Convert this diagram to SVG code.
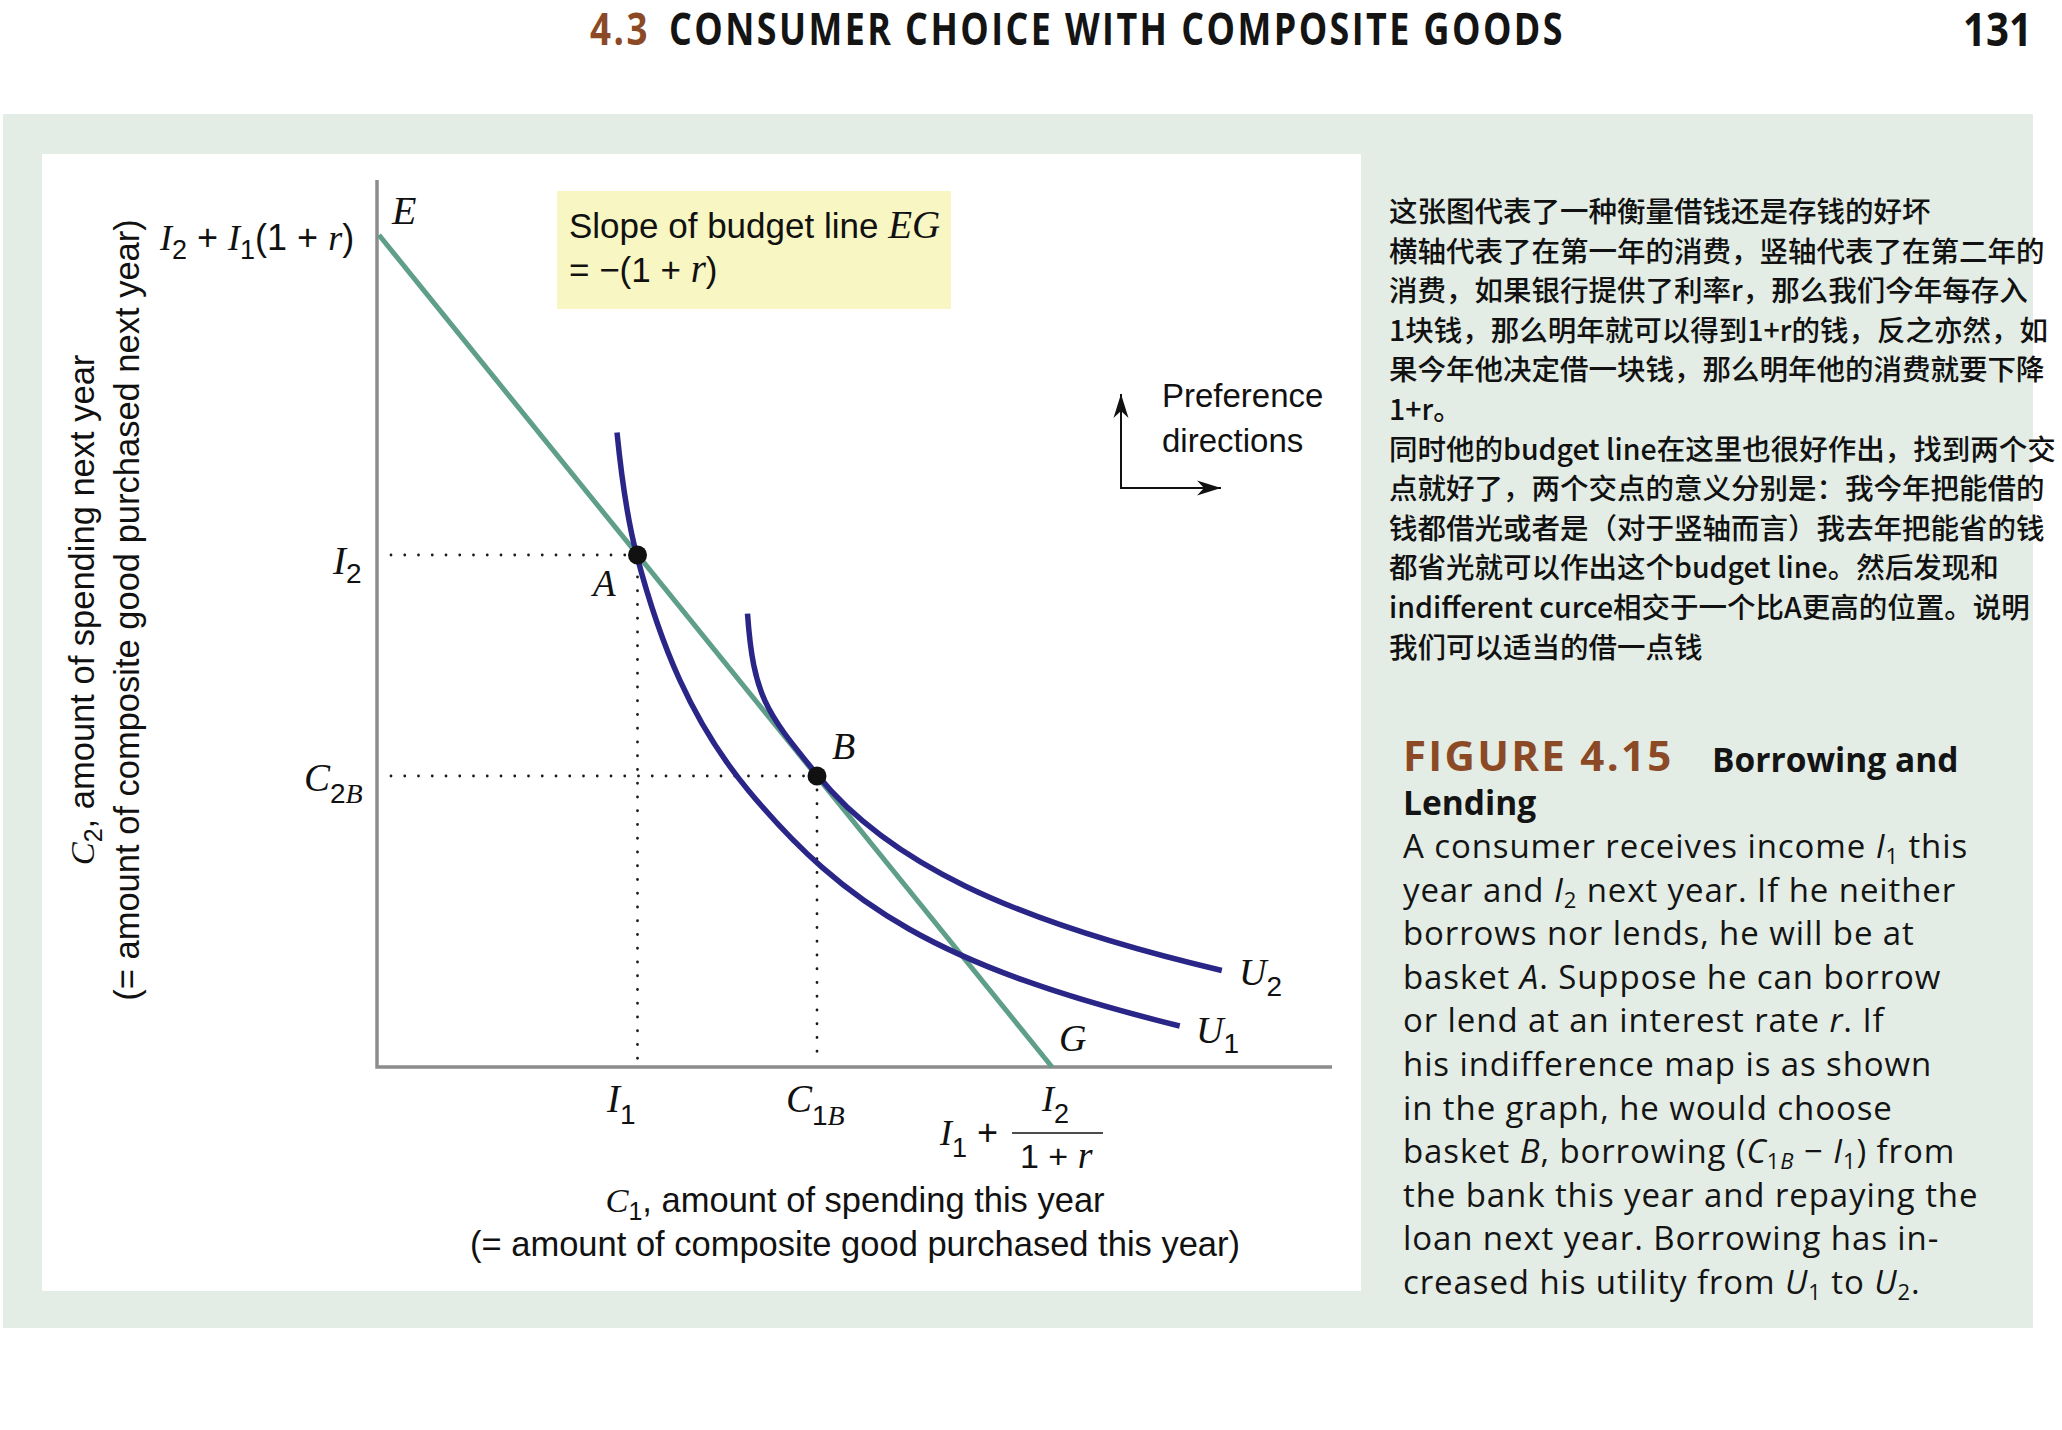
<svg xmlns="http://www.w3.org/2000/svg" width="2062" height="1430" viewBox="0 0 2062 1430">
<style>
.sans{font-family:"Liberation Sans",Arial,sans-serif;}
.math{font-family:"Liberation Serif","Times New Roman",serif;font-style:italic;}
.cap{font-family:"Open Sans","Noto Sans",sans-serif;fill:#141414;}
.cjk{font-family:"Noto Sans CJK SC",sans-serif;font-size:28.5px;fill:#111;font-weight:500;}
.dot{stroke:#1a1a1a;stroke-width:2.8;stroke-dasharray:0 13.75;stroke-linecap:round;fill:none;}
.ic{fill:none;stroke:#2a2687;stroke-width:5.5;}
.lbl{fill:#111;}
</style>
<defs>
<marker id="ah" markerWidth="30" markerHeight="20" viewBox="-26 -10 30 20" refX="0" refY="0" orient="auto" markerUnits="userSpaceOnUse"><path d="M0,0 L-24,-7.5 L-17,0 L-24,7.5 Z" fill="#111"/></marker>
</defs>
<rect x="0" y="0" width="2062" height="1430" fill="#ffffff"/>
<g id="header">
<text x="590" y="45" class="cap" font-size="44" font-weight="700" fill="#8b4a25" style="fill:#8b4a25" letter-spacing="3" textLength="60" lengthAdjust="spacingAndGlyphs">4.3</text>
<text x="669" y="45" class="cap" font-size="44" font-weight="700" letter-spacing="3" textLength="896" lengthAdjust="spacingAndGlyphs">CONSUMER CHOICE WITH COMPOSITE GOODS</text>
<text x="1963" y="46" class="cap" font-size="46" font-weight="700" textLength="69" lengthAdjust="spacingAndGlyphs">131</text>
</g>
<rect id="panel" x="3" y="114" width="2030" height="1214" fill="#e3ede5"/>
<rect id="chart-bg" x="42" y="154" width="1319" height="1137" fill="#ffffff"/>

<g id="axes">
<path d="M377,180 L377,1067 L1332,1067" fill="none" stroke="#8c8c8c" stroke-width="3.5"/>
</g>
<g id="connectors">
<path d="M391,555 H631" class="dot"/>
<path d="M637.5,577 V1062" class="dot"/>
<path d="M391,776 H812" class="dot"/>
<path d="M817,790 V1062" class="dot"/>
<path id="budget-line" d="M379,235 L1052,1067" stroke="#5f9f89" stroke-width="5" fill="none"/>
<path id="U1" class="ic" d="M617,432.6 C621,472.6 626.6,516.8 636.8,555.5 C659.7,642.5 690.8,721.3 748.4,790.4 C844.4,905.6 937,966.3 1179.7,1026"/>
<path id="U2" class="ic" d="M747.5,613.6 C753.5,698.6 767.4,713.4 817.8,775.6 C887.1,861.1 1007.7,920.1 1221.8,970.5"/>
<path d="M1121,488 V394" stroke="#111" stroke-width="2" fill="none" marker-end="url(#ah)"/>
<path d="M1120,488 H1221" stroke="#111" stroke-width="2" fill="none" marker-end="url(#ah)"/>
</g>
<g id="point-A"><circle cx="637.5" cy="555" r="9.5" fill="#111"/><text x="593" y="596" class="math lbl" font-size="37">A</text></g>
<g id="point-B"><circle cx="817" cy="776" r="9.5" fill="#111"/><text x="832" y="759" class="math lbl" font-size="38">B</text></g>
<g id="point-E"><text x="392" y="224" class="math lbl" font-size="40">E</text></g>
<g id="point-G"><text x="1059" y="1051" class="math lbl" font-size="38">G</text></g>
<g id="label-U1"><text x="1196" y="1043" class="lbl" font-size="38"><tspan class="math">U</tspan><tspan class="sans" font-size="28" dy="10">1</tspan></text></g>
<g id="label-U2"><text x="1239" y="985" class="lbl" font-size="38"><tspan class="math">U</tspan><tspan class="sans" font-size="28" dy="11">2</tspan></text></g>

<g id="ylabels">
<text x="160" y="250" class="lbl" font-size="36" xml:space="preserve"><tspan class="math">I</tspan><tspan class="sans" font-size="27" dy="9">2</tspan><tspan class="sans" dy="-9"> + </tspan><tspan class="math">I</tspan><tspan class="sans" font-size="27" dy="9">1</tspan><tspan class="sans" dy="-9">(1 + </tspan><tspan class="math">r</tspan><tspan class="sans">)</tspan></text>
<text x="333" y="574" class="lbl" font-size="39"><tspan class="math">I</tspan><tspan class="sans" font-size="28" dy="9">2</tspan></text>
<text x="304" y="791" class="lbl" font-size="39"><tspan class="math">C</tspan><tspan class="sans" font-size="28" dy="12">2</tspan><tspan class="math" font-size="28">B</tspan></text>
</g>
<g id="xlabels">
<text x="607" y="1112" class="lbl" font-size="39"><tspan class="math">I</tspan><tspan class="sans" font-size="28" dy="12">1</tspan></text>
<text x="786" y="1112" class="lbl" font-size="39"><tspan class="math">C</tspan><tspan class="sans" font-size="28" dy="13">1</tspan><tspan class="math" font-size="28">B</tspan></text>
<text x="940" y="1145" class="lbl" font-size="36" xml:space="preserve"><tspan class="math">I</tspan><tspan class="sans" font-size="27" dy="12">1</tspan><tspan class="sans" dy="-12"> +</tspan></text>
<line x1="1012" y1="1133" x2="1103" y2="1133" stroke="#111" stroke-width="1.6"/>
<text x="1042" y="1111" class="lbl" font-size="36"><tspan class="math">I</tspan><tspan class="sans" font-size="27" dy="12">2</tspan></text>
<text x="1020" y="1168" class="lbl" font-size="34" xml:space="preserve"><tspan class="sans">1 + </tspan><tspan class="math" font-size="38">r</tspan></text>
</g>

<g id="axis-title-y">
<text transform="translate(94,610) rotate(-90)" text-anchor="middle" class="sans lbl" font-size="34.5"><tspan class="math">C</tspan><tspan font-size="25" dy="8">2</tspan><tspan dy="-8">, amount of spending next year</tspan></text>
<text transform="translate(139,610) rotate(-90)" text-anchor="middle" class="sans lbl" font-size="34.5">(= amount of composite good purchased next year)</text>
</g>
<g id="axis-title-x">
<text x="855" y="1212" text-anchor="middle" class="sans lbl" font-size="34.5"><tspan class="math">C</tspan><tspan font-size="25" dy="8">1</tspan><tspan dy="-8">, amount of spending this year</tspan></text>
<text x="855" y="1256" text-anchor="middle" class="sans lbl" font-size="34.5">(= amount of composite good purchased this year)</text>
</g>

<g id="slope-note">
<rect x="557" y="191" width="394" height="118" fill="#f8f6c2"/>
<text x="569" y="238" class="lbl" font-size="35" xml:space="preserve"><tspan class="sans">Slope of budget line </tspan><tspan class="math" font-size="39">EG</tspan></text>
<text x="569" y="282" class="lbl" font-size="35" xml:space="preserve"><tspan class="sans">= −(1 + </tspan><tspan class="math" font-size="39">r</tspan><tspan class="sans">)</tspan></text>
</g>
<g id="preference-note">
<text x="1162" y="407" class="sans lbl" font-size="33">Preference</text>
<text x="1162" y="452" class="sans lbl" font-size="33">directions</text>
</g>

<g id="cjk-note" class="cjk">
<text x="1389" y="222">这张图代表了一种衡量借钱还是存钱的好坏</text>
<text x="1389" y="261.6">横轴代表了在第一年的消费，竖轴代表了在第二年的</text>
<text x="1389" y="301.2">消费，如果银行提供了利率r，那么我们今年每存入</text>
<text x="1389" y="340.8">1块钱，那么明年就可以得到1+r的钱，反之亦然，如</text>
<text x="1389" y="380.4">果今年他决定借一块钱，那么明年他的消费就要下降</text>
<text x="1389" y="420">1+r。</text>
<text x="1389" y="459.6">同时他的budget line在这里也很好作出，找到两个交</text>
<text x="1389" y="499.2">点就好了，两个交点的意义分别是：我今年把能借的</text>
<text x="1389" y="538.8">钱都借光或者是（对于竖轴而言）我去年把能省的钱</text>
<text x="1389" y="578.4">都省光就可以作出这个budget line。然后发现和</text>
<text x="1389" y="618">indifferent curce相交于一个比A更高的位置。说明</text>
<text x="1389" y="657.6">我们可以适当的借一点钱</text>
</g>

<g id="caption" class="cap">
<text x="1403" y="771" font-size="42" font-weight="700" style="fill:#8b4a25" letter-spacing="2.3">FIGURE 4.15</text>
<text x="1712" y="772" font-size="33.5" font-weight="700">Borrowing and</text>
<text x="1403" y="815" font-size="33.5" font-weight="700">Lending</text>
<g font-size="33" letter-spacing="0.9" xml:space="preserve">
<text x="1403" y="858">A consumer receives income <tspan font-style="italic">I</tspan><tspan font-size="22" dy="6">1</tspan><tspan dy="-6"> this</tspan></text>
<text x="1403" y="901.6">year and <tspan font-style="italic">I</tspan><tspan font-size="22" dy="6">2</tspan><tspan dy="-6"> next year. If he neither</tspan></text>
<text x="1403" y="945.2">borrows nor lends, he will be at</text>
<text x="1403" y="988.8">basket <tspan font-style="italic">A</tspan>. Suppose he can borrow</text>
<text x="1403" y="1032.4">or lend at an interest rate <tspan font-style="italic">r</tspan>. If</text>
<text x="1403" y="1076">his indifference map is as shown</text>
<text x="1403" y="1119.6">in the graph, he would choose</text>
<text x="1403" y="1163.2">basket <tspan font-style="italic">B</tspan>, borrowing (<tspan font-style="italic">C</tspan><tspan font-size="22" dy="6">1<tspan font-style="italic">B</tspan></tspan><tspan dy="-6"> − </tspan><tspan font-style="italic">I</tspan><tspan font-size="22" dy="6">1</tspan><tspan dy="-6">) from</tspan></text>
<text x="1403" y="1206.8">the bank this year and repaying the</text>
<text x="1403" y="1250.4">loan next year. Borrowing has in-</text>
<text x="1403" y="1294">creased his utility from <tspan font-style="italic">U</tspan><tspan font-size="22" dy="6">1</tspan><tspan dy="-6"> to </tspan><tspan font-style="italic">U</tspan><tspan font-size="22" dy="6">2</tspan><tspan dy="-6">.</tspan></text>
</g>
</g>
</svg>
